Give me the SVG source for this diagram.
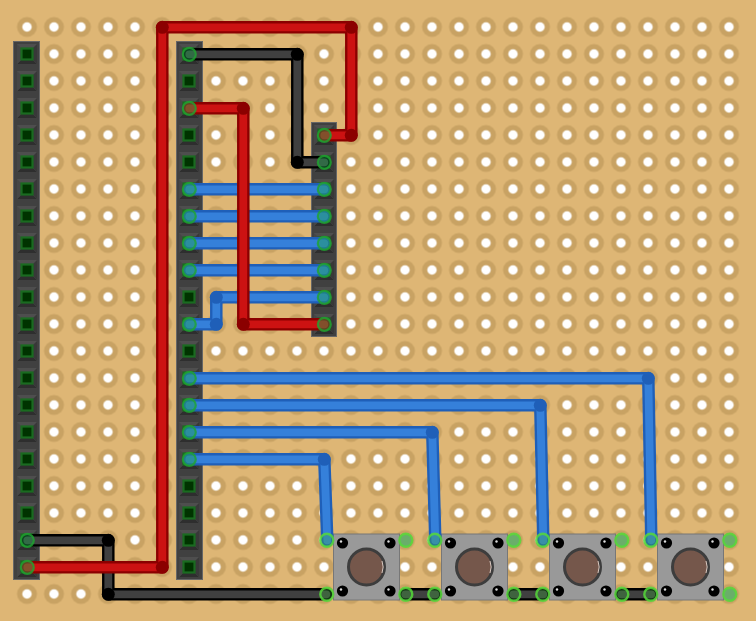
<svg xmlns="http://www.w3.org/2000/svg" width="756" height="621" viewBox="0 0 756 621">
<style>
.w{fill:none;stroke-linejoin:round;stroke-linecap:round}
.o{stroke-width:12.500}.i{stroke-width:7.800}
.ro{stroke:#8b0000}.ri{stroke:#cc1212}.rd{fill:#8b0000}
.ko{stroke:#000}.ki{stroke:#404040}.kd{fill:#000}
.bo{stroke:#1f5fb8}.bi{stroke:#3580da}.bd{fill:#1f5fb8}
.hdr{fill:#404040;stroke:#666;stroke-width:1}
.end{fill:#1fa54f;fill-opacity:.42;stroke:#1fa52f;stroke-opacity:.8;stroke-width:2.200}
.term{fill:#3fae3f;fill-opacity:.32;stroke:#55d83a;stroke-opacity:.85;stroke-width:2.400}
.btn{fill:#999;stroke:#777;stroke-width:1}
.tsq{fill:#7fae7f}
</style>
<defs>
<pattern id="holes" patternUnits="userSpaceOnUse" x="13.500" y="13.500" width="27" height="27">
<circle cx="13.500" cy="13.500" r="10" fill="#c8a263"/>
<circle cx="13.500" cy="13.500" r="4.700" fill="#fff"/>
</pattern>
<g id="pin">
<rect x="-10" y="-10" width="20" height="20" fill="#4e4e4e"/>
<path d="M-10 10L-6 6H6L10 10Z" fill="#2e2e2e"/>
<path d="M10 -10L6 -6V6L10 10Z" fill="#383838"/>
<path d="M-10 -10L-6 -6V6L-10 10Z" fill="#464646"/>
<rect x="-5.500" y="-5.500" width="11" height="11" fill="#003300" stroke="#1a6b20" stroke-width="2.200"/>
</g>
<g id="button">
<rect class="btn" x="-33" y="-33" width="66" height="66"/>
<g fill="#000">
<circle cx="-24" cy="-24" r="5.600"/><circle cx="23.500" cy="-24" r="5.600"/>
<circle cx="-24" cy="24" r="5.600"/><circle cx="23.500" cy="24" r="5.600"/>
</g>
<g fill="#ddd">
<circle cx="-25.500" cy="-25.500" r="1.200"/><circle cx="22" cy="-25.500" r="1.200"/>
<circle cx="-25.500" cy="22.500" r="1.200"/><circle cx="22" cy="22.500" r="1.200"/>
</g>
<circle cx="0" cy="0" r="18" fill="#75574b" stroke="#3d3d3d" stroke-width="3"/>
<path d="M15.500 -6A16.500 16.500 0 0 1 15.500 6" fill="none" stroke="#d8c8c0" stroke-width="1"/>
</g>
</defs>
<rect id="board" width="756" height="621" fill="#deb675"/>
<rect x="13.500" y="13.500" width="729" height="594" fill="url(#holes)"/>

<g id="header-left">
<rect class="hdr" x="13.500" y="41.500" width="26" height="538"/>
<use href="#pin" x="27" y="54"/><use href="#pin" x="27" y="81"/><use href="#pin" x="27" y="108"/><use href="#pin" x="27" y="135"/><use href="#pin" x="27" y="162"/><use href="#pin" x="27" y="189"/><use href="#pin" x="27" y="216"/><use href="#pin" x="27" y="243"/><use href="#pin" x="27" y="270"/><use href="#pin" x="27" y="297"/><use href="#pin" x="27" y="324"/><use href="#pin" x="27" y="351"/><use href="#pin" x="27" y="378"/><use href="#pin" x="27" y="405"/><use href="#pin" x="27" y="432"/><use href="#pin" x="27" y="459"/><use href="#pin" x="27" y="486"/><use href="#pin" x="27" y="513"/><use href="#pin" x="27" y="540"/><use href="#pin" x="27" y="567"/>
</g>
<g id="header-middle">
<rect class="hdr" x="176.500" y="41.500" width="26" height="538"/>
<use href="#pin" x="189" y="54"/><use href="#pin" x="189" y="81"/><use href="#pin" x="189" y="108"/><use href="#pin" x="189" y="135"/><use href="#pin" x="189" y="162"/><use href="#pin" x="189" y="189"/><use href="#pin" x="189" y="216"/><use href="#pin" x="189" y="243"/><use href="#pin" x="189" y="270"/><use href="#pin" x="189" y="297"/><use href="#pin" x="189" y="324"/><use href="#pin" x="189" y="351"/><use href="#pin" x="189" y="378"/><use href="#pin" x="189" y="405"/><use href="#pin" x="189" y="432"/><use href="#pin" x="189" y="459"/><use href="#pin" x="189" y="486"/><use href="#pin" x="189" y="513"/><use href="#pin" x="189" y="540"/><use href="#pin" x="189" y="567"/>
</g>
<g id="header-right">
<rect class="hdr" x="311.500" y="122.500" width="25" height="214"/>
<use href="#pin" x="324" y="135"/><use href="#pin" x="324" y="162"/><use href="#pin" x="324" y="189"/><use href="#pin" x="324" y="216"/><use href="#pin" x="324" y="243"/><use href="#pin" x="324" y="270"/><use href="#pin" x="324" y="297"/><use href="#pin" x="324" y="324"/>
</g>
<g id="button-1"><use href="#button" x="366.500" y="567"/><rect class="tsq" x="400" y="535" width="11" height="11"/></g>
<g id="button-2"><use href="#button" x="474.500" y="567"/><rect class="tsq" x="508" y="535" width="11" height="11"/></g>
<g id="button-3"><use href="#button" x="582.500" y="567"/><rect class="tsq" x="616" y="535" width="11" height="11"/></g>
<g id="button-4"><use href="#button" x="690.500" y="567"/><rect class="tsq" x="724" y="535" width="11" height="11"/><rect class="tsq" x="724" y="589" width="11" height="11"/></g>

<g id="connectors" transform="translate(.3 .3)">
<g class="w o ko">
<path d="M27 540H108V594H326"/><path d="M189 54H297V162H324"/><path d="M405 594H435"/><path d="M513 594H543"/><path d="M621 594H651"/>
</g>
<g class="w i ki">
<path d="M27 540H108V594H326"/><path d="M189 54H297V162H324"/><path d="M405 594H435"/><path d="M513 594H543"/><path d="M621 594H651"/>
</g>
<g class="kd"><circle cx="108" cy="540" r="6.500"/><circle cx="108" cy="594" r="6.500"/><circle cx="297" cy="54" r="6.500"/><circle cx="297" cy="162" r="6.500"/></g>

<g class="w o bo">
<path d="M189 189H324"/><path d="M189 216H324"/><path d="M189 243H324"/><path d="M189 270H324"/><path d="M189 324H216V297H324"/><path d="M189 378H648L651 540"/><path d="M189 405H540L543 540"/><path d="M189 432H432L435 540"/><path d="M189 459H324L327 540"/>
</g>
<g class="w i bi">
<path d="M189 189H324"/><path d="M189 216H324"/><path d="M189 243H324"/><path d="M189 270H324"/><path d="M189 324H216V297H324"/><path d="M189 378H648L651 540"/><path d="M189 405H540L543 540"/><path d="M189 432H432L435 540"/><path d="M189 459H324L327 540"/>
</g>
<g class="bd"><circle cx="216" cy="324" r="6.500"/><circle cx="216" cy="297" r="6.500"/><circle cx="648" cy="378" r="6.500"/><circle cx="540" cy="405" r="6.500"/><circle cx="432" cy="432" r="6.500"/><circle cx="324" cy="459" r="6.500"/></g>

<g class="w o ro">
<path d="M324 135H351V27H162V567H27"/><path d="M189 108H243V324H324"/>
</g>
<g class="w i ri">
<path d="M324 135H351V27H162V567H27"/><path d="M189 108H243V324H324"/>
</g>
<g class="rd"><circle cx="351" cy="135" r="6.500"/><circle cx="351" cy="27" r="6.500"/><circle cx="162" cy="27" r="6.500"/><circle cx="162" cy="567" r="6.500"/><circle cx="243" cy="108" r="6.500"/><circle cx="243" cy="324" r="6.500"/></g>

<g class="end">
<circle cx="27" cy="540" r="6.500"/><circle cx="27" cy="567" r="6.500"/><circle cx="189" cy="54" r="6.500"/><circle cx="189" cy="108" r="6.500"/><circle cx="189" cy="189" r="6.500"/><circle cx="189" cy="216" r="6.500"/><circle cx="189" cy="243" r="6.500"/><circle cx="189" cy="270" r="6.500"/><circle cx="189" cy="324" r="6.500"/><circle cx="189" cy="378" r="6.500"/><circle cx="189" cy="405" r="6.500"/><circle cx="189" cy="432" r="6.500"/><circle cx="189" cy="459" r="6.500"/>
<circle cx="324" cy="135" r="6.500"/><circle cx="324" cy="162" r="6.500"/><circle cx="324" cy="189" r="6.500"/><circle cx="324" cy="216" r="6.500"/><circle cx="324" cy="243" r="6.500"/><circle cx="324" cy="270" r="6.500"/><circle cx="324" cy="297" r="6.500"/><circle cx="324" cy="324" r="6.500"/>
</g>
<g class="term">
<circle cx="326.500" cy="540" r="6.500"/><circle cx="405.500" cy="540" r="6.500"/><circle cx="326.500" cy="594" r="6.500"/><circle cx="405.500" cy="594" r="6.500"/>
<circle cx="434.500" cy="540" r="6.500"/><circle cx="513.500" cy="540" r="6.500"/><circle cx="434.500" cy="594" r="6.500"/><circle cx="513.500" cy="594" r="6.500"/>
<circle cx="542.500" cy="540" r="6.500"/><circle cx="621.500" cy="540" r="6.500"/><circle cx="542.500" cy="594" r="6.500"/><circle cx="621.500" cy="594" r="6.500"/>
<circle cx="650.500" cy="540" r="6.500"/><circle cx="729.500" cy="540" r="6.500"/><circle cx="650.500" cy="594" r="6.500"/><circle cx="729.500" cy="594" r="6.500"/>
</g>
</g>
</svg>
